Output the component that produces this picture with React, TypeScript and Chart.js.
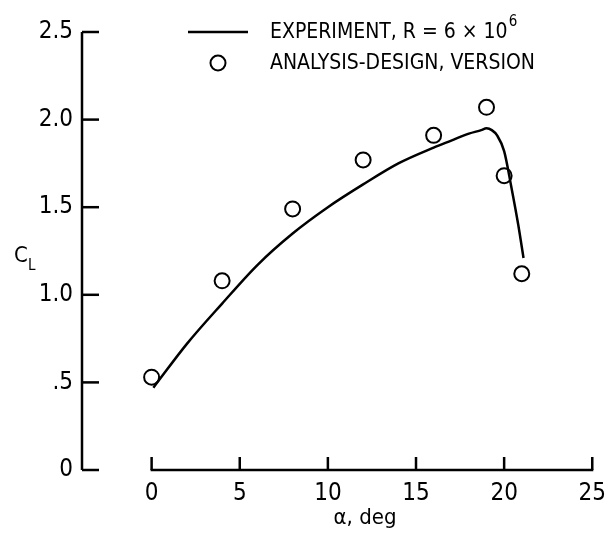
import { useEffect, useRef } from "react";
import { Chart, registerables } from "chart.js";

Chart.register(...registerables);

// ---- data ----
const ALPHA_TICKS = [0, 5, 10, 15, 20, 25];
const CL_TICKS = [0, 0.5, 1.0, 1.5, 2.0, 2.5];
const CL_TICK_LABELS = ["0", ".5", "1.0", "1.5", "2.0", "2.5"];

const EXP_ALPHA = [0.1, 2, 4, 6, 8, 10, 12, 14, 16, 17, 18, 18.7, 19.0, 19.3, 19.6, 20.0, 20.4, 20.8, 21.1];
const EXP_CL = [0.47, 0.72, 0.95, 1.17, 1.35, 1.5, 1.63, 1.75, 1.84, 1.88, 1.92, 1.94, 1.95, 1.94, 1.91, 1.82, 1.62, 1.4, 1.21];

const ANALYSIS_ALPHA = [0, 4, 8, 12, 16, 19, 20, 21];
const ANALYSIS_CL = [0.53, 1.08, 1.49, 1.77, 1.91, 2.07, 1.68, 1.12];

const EXP_LABEL = "EXPERIMENT, R = 6 \u00d7 10";
const EXP_LABEL_SUP = "6";
const ANALYSIS_LABEL = "ANALYSIS-DESIGN, VERSION";
const X_TITLE = "\u03b1, deg";
const Y_TITLE = "C";
const Y_TITLE_SUB = "L";

const X_MIN = -3.95;
const X_MAX = 25;
const Y_MIN = 0;
const Y_MAX = 2.5;

const TICK_FONT = "'Liberation Sans Narrow', 'DejaVu Sans Condensed', 'DejaVu Sans', sans-serif";
const TEXT_FONT = "'DejaVu Sans Condensed', 'Liberation Sans Narrow', 'DejaVu Sans', sans-serif";

const axesPlugin = {
  id: "customAxes",
  afterDraw(chart: any) {
    const { ctx, chartArea } = chart;
    const xs = chart.scales.x;
    const ys = chart.scales.y;
    ctx.save();
    ctx.strokeStyle = "#000";
    ctx.fillStyle = "#000";
    ctx.lineWidth = 2.5;
    ctx.lineCap = "butt";

    // y axis line
    const yx = chartArea.left;
    ctx.beginPath();
    ctx.moveTo(yx, ys.getPixelForValue(Y_MAX));
    ctx.lineTo(yx, ys.getPixelForValue(Y_MIN));
    ctx.stroke();
    // y ticks (inward, to the right)
    CL_TICKS.forEach((v) => {
      const py = ys.getPixelForValue(v);
      ctx.beginPath();
      ctx.moveTo(yx, py);
      ctx.lineTo(yx + 17, py);
      ctx.stroke();
    });

    // x axis line (detached, from 0 to 25)
    const xy = chartArea.bottom;
    ctx.beginPath();
    ctx.moveTo(xs.getPixelForValue(ALPHA_TICKS[0]) - 1, xy);
    ctx.lineTo(xs.getPixelForValue(ALPHA_TICKS[ALPHA_TICKS.length - 1]) + 1, xy);
    ctx.stroke();
    ALPHA_TICKS.forEach((v) => {
      const px = xs.getPixelForValue(v);
      ctx.beginPath();
      ctx.moveTo(px, xy);
      ctx.lineTo(px, xy - 13);
      ctx.stroke();
    });

    // axis titles
    ctx.textBaseline = "middle";
    ctx.textAlign = "center";
    ctx.font = `22px ${TEXT_FONT}`;
    ctx.fillText(X_TITLE, 365, 518);

    ctx.textAlign = "left";
    ctx.font = `22px ${TEXT_FONT}`;
    ctx.fillText(Y_TITLE, 14, 256);
    ctx.font = `15px ${TEXT_FONT}`;
    ctx.fillText(Y_TITLE_SUB, 28, 266);

    // legend
    ctx.lineWidth = 2.5;
    ctx.beginPath();
    ctx.moveTo(188, 32);
    ctx.lineTo(248, 32);
    ctx.stroke();
    ctx.lineWidth = 2;
    ctx.beginPath();
    ctx.arc(218, 63, 7.5, 0, Math.PI * 2);
    ctx.stroke();

    ctx.font = `21px ${TEXT_FONT}`;
    ctx.textAlign = "left";
    ctx.fillText(EXP_LABEL, 270, 33);
    const w = ctx.measureText(EXP_LABEL).width;
    ctx.font = `15px ${TEXT_FONT}`;
    ctx.fillText(EXP_LABEL_SUP, 270 + w + 1, 22);
    ctx.font = `21px ${TEXT_FONT}`;
    ctx.fillText(ANALYSIS_LABEL, 270, 64);

    ctx.restore();
  },
};

export default function App() {
  const canvasRef = useRef<HTMLCanvasElement | null>(null);

  useEffect(() => {
    document.body.style.margin = "0";
    const canvas = canvasRef.current;
    if (!canvas) return;
    const chart = new Chart(canvas, {
      type: "scatter",
      data: {
        datasets: [
          {
            label: "Experiment",
            data: EXP_ALPHA.map((a, i) => ({ x: a, y: EXP_CL[i] })),
            showLine: true,
            borderColor: "#000",
            borderWidth: 2.5,
            pointRadius: 0,
            tension: 0.4,
            cubicInterpolationMode: "monotone",
            fill: false,
          } as any,
          {
            label: "Analysis",
            data: ANALYSIS_ALPHA.map((a, i) => ({ x: a, y: ANALYSIS_CL[i] })),
            showLine: false,
            pointRadius: 7.5,
            pointBorderWidth: 2,
            pointBackgroundColor: "rgba(255,255,255,0)",
            pointBorderColor: "#000",
          },
        ],
      },
      options: {
        responsive: false,
        animation: false,
        devicePixelRatio: 1,
        layout: { padding: { top: 32, right: 15, left: 0, bottom: 0 } },
        plugins: {
          legend: { display: false },
          tooltip: { enabled: false },
          title: { display: false },
        },
        scales: {
          x: {
            type: "linear",
            min: X_MIN,
            max: X_MAX,
            grid: { display: false, drawTicks: false },
            border: { display: false },
            afterBuildTicks: (scale: any) => {
              scale.ticks = ALPHA_TICKS.map((v) => ({ value: v }));
            },
            afterFit: (scale: any) => {
              scale.height = 76;
            },
            ticks: {
              color: "#000",
              padding: 9,
              autoSkip: false,
              maxRotation: 0,
              font: { family: TICK_FONT, size: 24 },
              callback: (v: any) => String(v),
            },
          },
          y: {
            type: "linear",
            min: Y_MIN,
            max: Y_MAX,
            grid: { display: false, drawTicks: false },
            border: { display: false },
            afterBuildTicks: (scale: any) => {
              scale.ticks = CL_TICKS.map((v) => ({ value: v }));
            },
            afterFit: (scale: any) => {
              scale.width = 82;
            },
            ticks: {
              color: "#000",
              padding: 9,
              autoSkip: false,
              font: { family: TICK_FONT, size: 24 },
              callback: (v: any) => {
                const i = CL_TICKS.indexOf(Number(v));
                return i >= 0 ? CL_TICK_LABELS[i] : "";
              },
            },
          },
        },
      },
      plugins: [axesPlugin],
    });
    return () => chart.destroy();
  }, []);

  return (
    <div style={{ width: 615, height: 546, background: "#fff" }}>
      <canvas ref={canvasRef} width={615} height={546} style={{ display: "block" }} />
    </div>
  );
}
